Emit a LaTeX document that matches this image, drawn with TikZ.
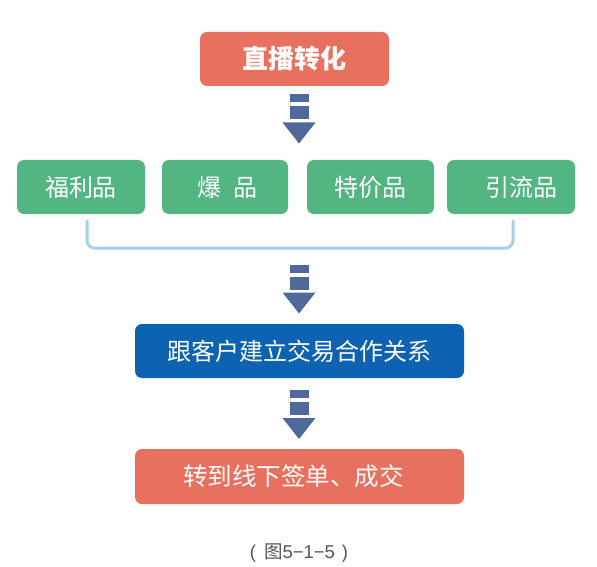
\documentclass[tikz,border=0pt]{standalone}
\usepackage{fontspec}
\newfontfamily\cjk{Noto Sans CJK SC}
\newfontfamily\lsans{Liberation Sans}
\usetikzlibrary{calc}
\definecolor{boxred}{HTML}{E8705F}
\definecolor{boxgreen}{HTML}{52B582}
\definecolor{boxblue}{HTML}{0D62B2}
\definecolor{arrowblue}{HTML}{50699A}
\definecolor{brackblue}{HTML}{A7CFEB}
\definecolor{capgray}{HTML}{555555}
\tikzset{
  box/.style={rounded corners=7pt, inner sep=0pt, text=white, font=\cjk\fontsize{24}{28}\selectfont, minimum height=54pt},
  redbox/.style={box, fill=boxred},
  greenbox/.style={box, fill=boxgreen, font=\cjk\fontsize{24}{28}\selectfont},
  bluebox/.style={box, fill=boxblue},
  bracket/.style={draw=brackblue, line width=3pt, rounded corners=8pt},
  pics/blockarrow/.style={code={
    \fill[arrowblue] (-9.5,-24.5) rectangle (9.5,-16.5);
    \fill[arrowblue] (-9.5,-12.5) rectangle (9.5,0.5);
    \fill[arrowblue] (-16.5,3.5) -- (16.5,3.5) -- (0,24.5) -- cycle;
  }}
}
\begin{document}
\begin{tikzpicture}[x=1pt,y=-1pt]
\useasboundingbox (0,0) rectangle (597,567);
\node[redbox, minimum width=189pt, font=\cjk\bfseries\fontsize{26}{30}\selectfont] (top) at (294.5,59) {直播转化};
\node[greenbox, minimum width=128pt] (g1) at (81,187) {福利品};
\node[greenbox, minimum width=126pt] (g2) at (225,187) {\hspace*{5pt}爆\hspace{0.5em}品};
\node[greenbox, minimum width=127pt] (g3) at (370.5,187) {特价品};
\node[greenbox, minimum width=128pt] (g4) at (511,187) {\hspace*{20pt}引流品};
\node[bluebox, minimum width=329pt] (rel) at (299.5,351) {跟客户建立交易合作关系};
\node[redbox, minimum width=329pt, minimum height=55pt, font=\cjk\fontsize{24.5}{28}\selectfont] (deal) at (299.5,476.5) {转到线下签单、成交\hspace*{12pt}};
\node[text=capgray, font=\cjk\fontsize{18.5}{21}\selectfont] (cap) at (299,553) {{\lsans(}\hspace{8pt}图{\lsans 5−1−5}\hspace{7pt}{\lsans)}};
% bracket joining the four product types
\coordinate (bl) at ($(g1.south)+(6,6)$);
\coordinate (br) at ($(g4.south)+(2,6)$);
\coordinate (bb) at ($(bl)+(0,28)$);
\draw[bracket] (bl) |- (br |- bb) -- (br);
% block arrows
\coordinate (xref) at (299,0);
\coordinate (m1) at ($(top.south)!0.5!(g1.north)+(0,-4)$);
\coordinate (m2) at ($(bb)!0.5!(rel.north)+(0,3)$);
\coordinate (m3) at ($(rel.south)!0.5!(deal.north)+(0,1)$);
\pic at (xref |- m1) {blockarrow};
\pic at (xref |- m2) {blockarrow};
\pic at (xref |- m3) {blockarrow};
\end{tikzpicture}
\end{document}
